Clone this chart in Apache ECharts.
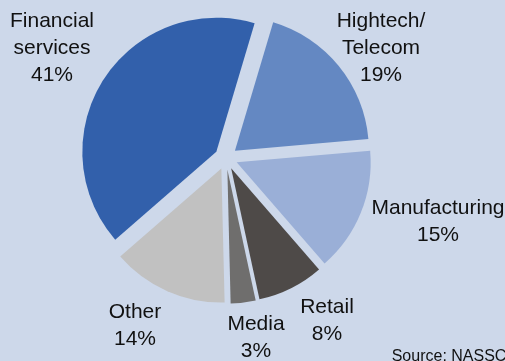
<!DOCTYPE html>
<html>
<head>
<meta charset="utf-8">
<script src="https://cdn.jsdelivr.net/npm/echarts@6/dist/echarts.min.js"></script>
<style>
  html, body { margin: 0; padding: 0; background: #cdd8ea; }
  #chart { width: 505px; height: 361px; }
</style>
</head>
<body>
<div id="chart"></div>
<script>
// Offshore IT services revenue by industry vertical (share, %)
const categories = ['Financial\nservices', 'Hightech/\nTelecom', 'Manufacturing', 'Retail', 'Media', 'Other'];
const shares = [41, 19, 15, 8, 3, 14];
const sliceColors = ['#3260ab', '#6488c2', '#9aafd7', '#4e4a48', '#6f6e6d', '#c1c1c1'];
const sourceNote = 'Source: NASSCOM';

// Where each category label block is centred
const labelAnchors = [[52, 48], [381, 48], [438, 222], [327, 321], [256, 338], [135, 326]];

const chart = echarts.init(document.getElementById('chart'), null, { renderer: 'canvas' });

const FONT = '"Liberation Sans", Arial, Helvetica, sans-serif';

const pieData = categories.map((name, i) => ({
  name: name,
  value: shares[i],
  selected: true,
  itemStyle: { color: sliceColors[i] }
}));

const labelTexts = categories.map((name, i) => ({
  type: 'text',
  x: labelAnchors[i][0],
  y: labelAnchors[i][1],
  silent: true,
  style: {
    text: name + '\n' + shares[i] + '%',
    fill: '#111111',
    font: '21px ' + FONT,
    lineHeight: 27,
    align: 'center',
    verticalAlign: 'middle'
  }
}));

chart.setOption({
  backgroundColor: '#cdd8ea',
  animation: false,
  series: [{
    type: 'pie',
    center: [226, 158],
    radius: [0, 134],
    startAngle: 221,
    clockwise: true,
    selectedMode: 'multiple',
    selectedOffset: 11.5,
    avoidLabelOverlap: false,
    label: { show: false },
    labelLine: { show: false },
    itemStyle: { borderWidth: 0 },
    select: { itemStyle: { borderWidth: 0 } },
    emphasis: { disabled: true },
    silent: true,
    data: pieData
  }],
  graphic: labelTexts.concat([{
    type: 'text',
    x: 391.7,
    y: 356.5,
    silent: true,
    style: {
      text: sourceNote,
      fill: '#111111',
      font: '16px ' + FONT,
      align: 'left',
      verticalAlign: 'middle'
    }
  }])
});
</script>
</body>
</html>
